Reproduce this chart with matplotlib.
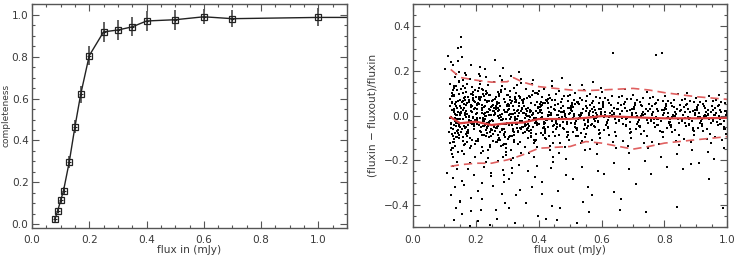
import matplotlib
matplotlib.use("Agg")
import matplotlib.pyplot as plt
from matplotlib.ticker import MultipleLocator

# ---------------- left panel data: completeness ----------------
flux_in = [0.08, 0.09, 0.10, 0.11, 0.13, 0.15, 0.17, 0.20, 0.25, 0.30, 0.35,
           0.40, 0.50, 0.60, 0.70, 1.00, 1.50]
completeness = [0.025, 0.066, 0.114, 0.160, 0.297, 0.466, 0.620, 0.805, 0.918,
                0.927, 0.942, 0.970, 0.976, 0.990, 0.981, 0.987, 0.987]
compl_err = [0.012, 0.012, 0.015, 0.020, 0.028, 0.032, 0.040, 0.044, 0.048,
             0.046, 0.046, 0.046, 0.048, 0.035, 0.040, 0.043, 0.043]

# ---------------- right panel data: flux ratio scatter ----------------
scatter_x = [
 0.102,0.118,0.125,0.131,0.143,0.127,0.138,0.121,0.147,0.133,
 0.107,0.123,0.136,0.129,0.145,0.119,0.141,0.132,0.126,0.149,
 0.112,0.128,0.139,0.122,0.146,0.134,0.117,0.142,0.130,0.137,
 0.115,0.124,0.144,0.135,0.127,0.148,0.120,0.139,0.131,0.146,
 0.119,0.133,0.126,0.141,0.137,0.122,0.148,0.129,0.144,0.135,
 0.121,0.136,0.128,0.143,0.125,0.139,0.132,0.147,0.118,0.140,
 0.124,0.131,0.145,0.138,0.127,0.149,0.134,0.142,0.121,0.136,
 0.152,0.168,0.175,0.159,0.183,0.191,0.163,0.177,0.196,0.156,
 0.154,0.171,0.186,0.162,0.179,0.193,0.158,0.184,0.167,0.198,
 0.161,0.174,0.189,0.153,0.182,0.166,0.195,0.170,0.157,0.187,
 0.164,0.178,0.155,0.192,0.169,0.185,0.160,0.197,0.173,0.181,
 0.167,0.153,0.188,0.176,0.194,0.159,0.172,0.185,0.163,0.199,
 0.158,0.180,0.165,0.190,0.175,0.151,0.184,0.170,0.196,0.162,
 0.173,0.156,0.189,0.168,0.182,0.194,0.161,0.178,0.152,0.186,
 0.203,0.217,0.231,0.246,0.212,0.238,0.225,0.241,0.208,0.229,
 0.206,0.221,0.236,0.214,0.248,0.227,0.201,0.243,0.219,0.233,
 0.210,0.224,0.239,0.205,0.232,0.247,0.216,0.228,0.244,0.213,
 0.204,0.219,0.234,0.249,0.211,0.226,0.240,0.207,0.222,0.237,
 0.209,0.223,0.242,0.215,0.230,0.245,0.202,0.218,0.235,0.226,
 0.212,0.228,0.244,0.206,0.220,0.236,0.250,0.214,0.231,0.241,
 0.217,0.233,0.203,0.225,0.247,0.211,0.238,0.222,0.229,0.245,
 0.253,0.268,0.281,0.295,0.259,0.274,0.288,0.262,0.291,0.277,
 0.256,0.271,0.285,0.299,0.264,0.279,0.293,0.258,0.283,0.270,
 0.261,0.276,0.289,0.254,0.267,0.282,0.296,0.273,0.287,0.265,
 0.257,0.272,0.286,0.298,0.263,0.278,0.292,0.266,0.284,0.251,
 0.260,0.275,0.290,0.255,0.269,0.284,0.297,0.263,0.280,0.294,
 0.252,0.267,0.282,0.296,0.274,0.288,0.259,0.271,0.286,0.299,
 0.303,0.318,0.332,0.346,0.311,0.325,0.339,0.307,0.321,0.343,
 0.306,0.320,0.334,0.348,0.314,0.328,0.341,0.309,0.323,0.337,
 0.301,0.316,0.330,0.344,0.313,0.327,0.336,0.305,0.319,0.349,
 0.308,0.322,0.335,0.347,0.315,0.329,0.342,0.304,0.326,0.338,
 0.302,0.317,0.331,0.345,0.312,0.324,0.340,0.310,0.333,0.350,
 0.305,0.319,0.328,0.343,0.309,0.321,0.336,0.314,0.339,0.326,
 0.353,0.367,0.381,0.395,0.359,0.373,0.388,0.362,0.377,0.391,
 0.356,0.370,0.384,0.398,0.364,0.379,0.392,0.358,0.374,0.386,
 0.351,0.366,0.380,0.394,0.361,0.376,0.389,0.355,0.369,0.397,
 0.357,0.371,0.385,0.399,0.363,0.378,0.393,0.368,0.382,0.352,
 0.360,0.375,0.390,0.354,0.369,0.383,0.396,0.365,0.387,0.372,
 0.403,0.417,0.432,0.446,0.411,0.425,0.439,0.406,0.421,0.443,
 0.408,0.422,0.436,0.449,0.414,0.428,0.441,0.401,0.419,0.434,
 0.405,0.419,0.433,0.447,0.412,0.427,0.440,0.409,0.424,0.438,
 0.402,0.416,0.430,0.444,0.410,0.423,0.437,0.407,0.426,0.448,
 0.404,0.418,0.431,0.445,0.413,0.429,0.442,0.410,0.435,0.420,
 0.453,0.467,0.481,0.495,0.459,0.473,0.488,0.462,0.477,0.491,
 0.456,0.470,0.484,0.498,0.464,0.479,0.492,0.458,0.474,0.486,
 0.451,0.466,0.480,0.494,0.461,0.476,0.489,0.455,0.469,0.497,
 0.457,0.471,0.485,0.499,0.463,0.478,0.493,0.468,0.482,0.452,
 0.503,0.517,0.532,0.546,0.511,0.525,0.539,0.506,0.521,0.543,
 0.508,0.522,0.536,0.549,0.514,0.528,0.541,0.501,0.519,0.534,
 0.505,0.519,0.533,0.547,0.512,0.527,0.540,0.509,0.524,0.538,
 0.502,0.516,0.530,0.544,0.510,0.523,0.537,0.507,0.526,0.548,
 0.553,0.567,0.581,0.595,0.559,0.573,0.588,0.562,0.577,0.591,
 0.556,0.570,0.584,0.598,0.564,0.579,0.592,0.558,0.574,0.586,
 0.551,0.566,0.580,0.594,0.561,0.576,0.589,0.555,0.569,0.597,
 0.557,0.571,0.585,0.599,0.563,0.578,0.593,0.568,0.582,0.552,
 0.603,0.617,0.632,0.646,0.611,0.625,0.639,0.606,0.621,0.635,
 0.608,0.622,0.636,0.649,0.614,0.628,0.641,0.601,0.619,0.644,
 0.605,0.619,0.633,0.647,0.612,0.627,0.640,0.609,0.624,0.638,
 0.653,0.667,0.681,0.695,0.659,0.673,0.688,0.662,0.677,0.691,
 0.656,0.670,0.684,0.698,0.664,0.679,0.692,0.658,0.674,0.686,
 0.651,0.666,0.680,0.694,0.661,0.676,0.689,0.655,0.669,0.697,
 0.703,0.717,0.732,0.746,0.711,0.725,0.739,0.706,0.721,0.743,
 0.708,0.722,0.736,0.749,0.714,0.728,0.741,0.701,0.719,0.734,
 0.705,0.719,0.733,0.747,0.712,0.727,0.740,0.709,0.724,0.738,
 0.753,0.767,0.781,0.795,0.759,0.773,0.788,0.762,0.777,0.791,
 0.756,0.770,0.784,0.798,0.764,0.779,0.792,0.758,0.774,0.786,
 0.751,0.766,0.780,0.794,0.761,0.776,0.789,0.755,0.769,0.797,
 0.803,0.817,0.832,0.846,0.811,0.825,0.839,0.806,0.821,0.843,
 0.808,0.822,0.836,0.849,0.814,0.828,0.841,0.801,0.819,0.834,
 0.805,0.819,0.833,0.847,0.812,0.827,0.840,0.809,0.824,0.838,
 0.853,0.867,0.881,0.895,0.859,0.873,0.888,0.862,0.877,0.891,
 0.856,0.870,0.884,0.898,0.864,0.879,0.892,0.858,0.874,0.886,
 0.851,0.866,0.880,0.894,0.861,0.876,0.889,0.855,0.869,0.897,
 0.903,0.917,0.932,0.946,0.911,0.925,0.939,0.906,0.921,0.943,
 0.908,0.922,0.936,0.949,0.914,0.928,0.941,0.901,0.919,0.934,
 0.905,0.919,0.933,0.947,0.912,0.927,0.940,0.909,0.924,0.938,
 0.953,0.967,0.981,0.995,0.959,0.973,0.988,0.962,0.977,0.991,
 0.956,0.970,0.984,0.998,0.964,0.979,0.992,0.958,0.974,0.986,
 0.951,0.966,0.980,0.994,0.961,0.976,0.989,0.955,0.969,0.997,
]
scatter_y = [
 0.210,0.045,-0.082,0.132,-0.015,-0.187,0.062,0.241,-0.042,-0.318,
 -0.258,0.102,-0.031,0.018,0.155,-0.121,-0.067,0.087,-0.226,0.011,
 0.268,-0.143,0.034,-0.056,-0.098,0.171,-0.012,0.305,0.124,-0.412,
 -0.074,0.058,-0.162,0.008,-0.281,0.072,-0.038,0.113,-0.105,0.196,
 0.142,-0.023,0.091,-0.208,0.041,-0.355,-0.051,0.028,0.246,-0.134,
 -0.006,0.187,-0.089,0.065,-0.172,-0.015,-0.468,0.098,0.076,-0.241,
 0.024,-0.118,0.152,-0.045,0.226,-0.388,0.051,-0.079,-0.152,0.003,
 0.352,0.048,-0.063,0.134,-0.022,0.091,-0.172,-0.004,0.061,-0.294,
 0.307,-0.091,0.023,-0.131,0.068,-0.048,0.158,-0.368,0.012,0.114,
 -0.035,0.082,-0.109,0.036,-0.213,0.004,-0.061,0.182,-0.442,0.041,
 0.124,-0.027,-0.158,0.071,-0.082,0.229,-0.016,-0.125,0.055,-0.495,
 -0.054,0.015,0.097,-0.240,0.028,-0.097,0.143,-0.033,-0.312,0.008,
 0.065,-0.143,0.192,-0.011,-0.072,-0.382,0.038,0.105,-0.185,-0.045,
 -0.118,0.262,-0.038,0.021,0.162,-0.266,0.079,-0.008,-0.071,-0.428,
 0.048,-0.071,0.112,-0.024,0.217,-0.152,0.009,0.064,-0.336,-0.041,
 -0.103,0.026,-0.055,0.141,0.003,-0.228,0.085,-0.094,0.036,0.172,
 0.073,-0.015,-0.188,0.011,0.098,-0.062,-0.421,0.045,-0.132,0.176,
 -0.037,0.121,0.017,-0.256,0.052,-0.085,0.138,-0.470,-0.011,0.067,
 0.188,-0.046,0.031,-0.168,-0.002,0.092,-0.115,-0.302,0.059,-0.024,
 -0.067,0.014,-0.141,0.109,-0.374,-0.031,0.043,0.157,-0.208,0.002,
 0.082,-0.092,-0.019,0.038,-0.272,0.123,-0.048,-0.157,0.211,-0.489,
 0.068,-0.052,0.117,-0.163,0.021,-0.009,-0.297,0.248,-0.081,0.042,
 -0.112,0.034,-0.038,0.094,-0.421,-0.137,0.015,0.151,-0.064,-0.205,
 0.012,0.178,-0.088,-0.026,0.059,-0.352,-0.014,0.086,-0.186,-0.057,
 -0.041,0.106,-0.242,0.048,-0.119,0.003,-0.072,-0.463,0.133,-0.019,
 0.073,-0.098,0.024,-0.315,-0.047,0.161,-0.145,0.039,-0.006,-0.392,
 -0.063,0.051,-0.021,-0.178,0.098,-0.267,0.004,-0.109,0.212,-0.033,
 0.052,-0.067,0.138,-0.023,-0.198,0.011,0.084,-0.285,-0.108,0.163,
 -0.041,0.027,-0.129,0.068,0.006,-0.354,-0.055,0.109,-0.016,-0.223,
 0.092,-0.089,0.019,-0.169,0.176,-0.031,0.045,-0.412,-0.062,0.013,
 -0.014,0.126,-0.074,0.036,-0.258,0.071,-0.118,0.002,-0.482,0.058,
 -0.103,0.041,-0.036,0.147,-0.152,-0.007,-0.331,0.083,0.026,-0.049,
 0.031,-0.188,0.101,-0.058,0.009,-0.086,0.194,-0.236,-0.024,0.063,
 0.044,-0.057,0.112,-0.139,0.008,-0.026,-0.274,0.078,-0.091,0.021,
 -0.012,0.089,-0.183,0.035,-0.064,0.142,-0.011,-0.392,0.057,-0.108,
 0.067,-0.036,0.003,-0.227,0.118,-0.078,0.049,-0.142,-0.019,-0.448,
 -0.048,0.024,-0.121,0.096,-0.003,-0.318,0.061,-0.069,0.158,0.012,
 0.031,-0.094,-0.022,0.074,-0.166,0.014,-0.043,-0.249,0.101,-0.008,
 0.038,-0.049,0.094,-0.122,0.011,-0.021,-0.236,0.063,-0.078,0.131,
 -0.009,0.071,-0.153,0.028,-0.057,0.005,-0.404,0.109,-0.031,-0.092,
 0.052,-0.067,0.016,-0.184,0.085,-0.014,0.039,-0.298,-0.106,0.002,
 -0.038,0.118,-0.002,-0.071,0.046,-0.462,-0.136,0.024,0.068,-0.044,
 0.015,-0.028,0.076,-0.209,-0.085,0.033,0.154,-0.352,-0.013,0.057,
 0.027,-0.046,0.088,-0.109,0.004,0.167,-0.265,0.052,-0.017,-0.071,
 -0.024,0.061,-0.141,0.013,0.112,-0.058,0.035,-0.467,-0.007,-0.193,
 0.071,-0.012,0.021,-0.086,-0.338,0.042,-0.036,0.098,-0.121,0.008,
 -0.053,0.034,-0.003,0.139,-0.168,-0.029,0.064,-0.412,0.016,-0.089,
 0.041,-0.038,0.079,-0.097,0.009,-0.016,-0.228,0.056,-0.064,0.113,
 -0.011,0.063,-0.124,0.022,-0.049,0.004,-0.385,0.094,-0.026,-0.078,
 0.046,-0.057,0.014,-0.152,0.072,-0.009,0.031,-0.282,-0.091,0.138,
 -0.032,0.102,-0.004,-0.062,0.038,-0.481,-0.113,0.019,0.058,-0.039,
 0.035,-0.041,0.083,-0.102,0.012,0.152,-0.247,0.049,-0.013,-0.063,
 -0.018,0.058,-0.129,0.017,0.097,-0.051,0.029,-0.318,-0.002,-0.172,
 0.064,-0.008,0.026,-0.079,-0.431,0.039,-0.029,0.088,-0.108,0.006,
 -0.046,0.031,0.002,0.124,-0.148,-0.022,0.057,-0.356,0.014,-0.081,
 0.043,-0.032,0.086,-0.093,0.017,-0.008,-0.212,0.061,-0.057,0.281,
 -0.004,0.069,-0.118,0.028,-0.041,0.011,-0.341,0.104,-0.021,-0.072,
 0.052,-0.049,0.021,-0.146,0.078,-0.002,0.036,-0.263,-0.085,0.009,
 0.031,-0.036,0.074,-0.098,0.008,0.121,-0.238,0.046,-0.015,-0.061,
 -0.019,0.054,-0.136,0.014,0.088,-0.047,0.026,-0.421,-0.004,-0.168,
 0.058,-0.011,0.023,-0.074,-0.372,0.035,-0.027,0.082,-0.112,0.003,
 0.037,-0.029,0.078,-0.091,0.012,-0.006,-0.204,0.055,-0.053,0.107,
 -0.008,0.062,-0.121,0.021,-0.038,0.006,-0.432,0.094,-0.018,-0.069,
 0.047,-0.046,0.018,-0.143,0.071,-0.003,0.032,-0.305,-0.081,0.008,
 0.028,-0.034,0.071,-0.094,0.006,0.272,-0.186,0.043,-0.016,0.279,
 -0.021,0.051,-0.127,0.012,0.083,-0.044,0.024,-0.262,-0.005,-0.068,
 0.054,-0.013,0.019,-0.071,-0.118,0.032,-0.026,0.078,-0.053,0.001,
 0.033,-0.027,0.072,-0.086,0.011,-0.007,-0.173,0.051,-0.049,0.096,
 -0.009,0.058,-0.112,0.019,-0.035,0.005,-0.408,0.087,-0.017,-0.063,
 0.043,-0.042,0.016,-0.131,0.066,-0.002,0.029,-0.228,-0.074,0.007,
 0.026,-0.031,0.065,-0.088,0.005,0.102,-0.154,0.039,-0.014,-0.056,
 -0.019,0.047,-0.118,0.011,0.076,-0.041,0.022,-0.241,-0.004,-0.216,
 0.049,-0.012,0.018,-0.067,-0.103,0.029,-0.024,0.071,-0.048,0.002,
 0.031,-0.025,0.066,-0.081,0.010,-0.006,-0.162,0.047,-0.045,0.088,
 -0.008,0.053,-0.104,0.017,-0.032,0.004,-0.283,0.081,-0.015,-0.058,
 0.039,-0.038,0.015,-0.122,0.061,-0.001,0.027,-0.214,-0.068,0.006,
 0.024,-0.028,0.061,-0.083,0.004,0.094,-0.146,0.036,-0.013,-0.052,
 -0.017,0.044,-0.109,0.010,0.071,-0.038,0.020,-0.196,-0.003,-0.412,
 0.045,-0.011,0.017,-0.062,-0.095,0.027,-0.022,0.066,-0.044,0.002,
]

# extra points of the dense central band
core_x = [
 0.123,0.141,0.158,0.176,0.192,0.133,0.167,0.185,0.149,0.128,
 0.137,0.154,0.171,0.188,0.126,0.162,0.179,0.196,0.145,0.131,
 0.129,0.146,0.164,0.181,0.198,0.138,0.156,0.173,0.190,0.121,
 0.134,0.151,0.169,0.186,0.125,0.143,0.160,0.177,0.194,0.139,
 0.127,0.144,0.161,0.178,0.195,0.136,0.153,0.170,0.187,0.148,
 0.132,0.150,0.166,0.183,0.124,0.142,0.159,0.175,0.191,0.157,
 0.204,0.221,0.238,0.256,0.273,0.291,0.212,0.229,0.247,0.264,
 0.281,0.298,0.208,0.225,0.243,0.260,0.277,0.294,0.216,0.233,
 0.251,0.268,0.286,0.203,0.220,0.237,0.255,0.272,0.289,0.214,
 0.231,0.248,0.266,0.283,0.206,0.223,0.241,0.258,0.275,0.292,
 0.218,0.235,0.253,0.270,0.287,0.209,0.227,0.244,0.262,0.279,
 0.296,0.213,0.230,0.249,0.265,0.282,0.299,0.207,0.224,0.242,
 0.259,0.276,0.293,0.211,0.228,0.245,0.263,0.280,0.297,0.219,
 0.236,0.254,0.271,0.288,0.205,0.222,0.240,0.257,0.274,0.290,
 0.304,0.321,0.338,0.356,0.373,0.391,0.312,0.329,0.347,0.364,
 0.381,0.398,0.308,0.325,0.343,0.360,0.377,0.394,0.316,0.333,
 0.351,0.368,0.386,0.303,0.320,0.337,0.355,0.372,0.389,0.314,
 0.331,0.348,0.366,0.383,0.306,0.323,0.341,0.358,0.375,0.392,
 0.318,0.335,0.353,0.370,0.387,0.309,0.327,0.344,0.362,0.379,
 0.396,0.313,0.330,0.349,0.365,0.382,0.399,0.307,0.324,0.342,
 0.404,0.421,0.438,0.456,0.473,0.491,0.412,0.429,0.447,0.464,
 0.481,0.498,0.408,0.425,0.443,0.460,0.477,0.494,0.416,0.433,
 0.451,0.468,0.486,0.403,0.420,0.437,0.455,0.472,0.489,0.414,
 0.431,0.448,0.466,0.483,0.406,0.423,0.441,0.458,0.475,0.492,
 0.504,0.521,0.538,0.556,0.573,0.591,0.512,0.529,0.547,0.564,
 0.581,0.598,0.508,0.525,0.543,0.560,0.577,0.594,0.516,0.533,
 0.551,0.568,0.586,0.503,0.520,0.537,0.555,0.572,0.589,0.514,
 0.604,0.621,0.638,0.656,0.673,0.691,0.612,0.629,0.647,0.664,
 0.681,0.698,0.608,0.625,0.643,0.660,0.677,0.694,0.616,0.633,
 0.704,0.721,0.738,0.756,0.773,0.791,0.712,0.729,0.747,0.764,
 0.781,0.798,0.708,0.725,0.743,0.760,0.777,0.794,0.716,0.733,
 0.804,0.821,0.838,0.856,0.873,0.891,0.812,0.829,0.847,0.864,
 0.881,0.898,0.808,0.825,0.843,0.860,0.877,0.894,0.816,0.833,
 0.904,0.921,0.938,0.956,0.973,0.991,0.912,0.929,0.947,0.964,
 0.981,0.998,0.908,0.925,0.943,0.960,0.977,0.994,0.916,0.933,
]
core_y = [
 0.061,-0.094,0.027,-0.041,0.108,-0.012,0.083,-0.136,0.004,-0.058,
 -0.027,0.119,-0.073,0.015,-0.118,0.052,-0.003,0.036,-0.085,0.093,
 0.022,-0.047,0.071,-0.102,-0.019,0.134,-0.061,0.009,0.077,-0.033,
 -0.076,0.041,-0.008,0.097,-0.143,0.018,-0.112,0.059,-0.037,0.001,
 0.115,-0.064,0.033,-0.021,0.066,-0.097,0.012,-0.052,0.128,-0.016,
 -0.041,0.008,-0.128,0.046,0.089,-0.034,0.103,-0.079,-0.007,0.062,
 0.053,-0.088,0.017,-0.043,0.096,-0.127,-0.009,0.071,-0.064,0.028,
 -0.021,0.043,-0.105,0.088,-0.031,0.006,-0.074,0.119,-0.049,-0.002,
 0.064,-0.056,-0.014,0.031,-0.139,0.102,-0.082,0.019,-0.037,0.075,
 -0.066,0.037,-0.118,0.008,0.058,-0.025,0.091,-0.051,0.024,-0.097,
 0.011,-0.079,0.049,-0.003,-0.133,0.083,-0.045,0.026,-0.068,0.107,
 -0.038,0.069,-0.016,-0.091,0.042,-0.059,0.015,-0.112,0.098,-0.028,
 0.033,-0.107,0.061,-0.044,0.012,-0.071,0.084,-0.018,-0.125,0.047,
 -0.053,0.021,-0.086,0.074,-0.011,0.113,-0.039,0.004,0.056,-0.062,
 0.044,-0.071,0.012,-0.036,0.082,-0.108,-0.006,0.063,-0.052,0.023,
 -0.018,0.037,-0.091,0.074,-0.026,0.004,-0.063,0.101,-0.041,-0.001,
 0.055,-0.047,-0.012,0.027,-0.118,0.088,-0.071,0.016,-0.031,0.064,
 -0.057,0.031,-0.101,0.007,0.049,-0.021,0.078,-0.044,0.019,-0.083,
 0.009,-0.067,0.041,-0.003,-0.114,0.071,-0.038,0.022,-0.058,0.092,
 -0.032,0.058,-0.014,-0.078,0.036,-0.051,0.013,-0.096,0.083,-0.024,
 0.039,-0.062,0.011,-0.031,0.073,-0.094,-0.004,0.056,-0.045,0.021,
 -0.015,0.033,-0.079,0.066,-0.022,0.004,-0.054,0.089,-0.036,0.001,
 0.049,-0.041,-0.009,0.025,-0.102,0.078,-0.061,0.015,-0.027,0.057,
 -0.049,0.028,-0.088,0.007,0.044,-0.018,0.069,-0.038,0.017,-0.072,
 0.036,-0.055,0.011,-0.027,0.066,-0.084,-0.002,0.051,-0.040,0.020,
 -0.012,0.031,-0.071,0.059,-0.019,0.005,-0.048,0.081,-0.032,0.002,
 0.045,-0.036,-0.007,0.024,-0.091,0.071,-0.054,0.015,-0.023,0.052,
 0.038,-0.049,0.013,-0.022,0.062,-0.076,0.001,0.049,-0.034,0.022,
 -0.009,0.031,-0.064,0.056,-0.015,0.007,-0.042,0.074,-0.027,0.003,
 0.031,-0.046,0.008,-0.024,0.055,-0.071,-0.003,0.043,-0.035,0.017,
 -0.013,0.027,-0.061,0.049,-0.018,0.004,-0.041,0.066,-0.029,0.001,
 0.029,-0.042,0.006,-0.023,0.051,-0.066,-0.004,0.039,-0.033,0.015,
 -0.012,0.024,-0.057,0.045,-0.017,0.003,-0.038,0.061,-0.027,0.000,
 0.026,-0.039,0.005,-0.022,0.048,-0.062,-0.005,0.036,-0.031,0.013,
 -0.011,0.022,-0.054,0.042,-0.016,0.002,-0.036,0.057,-0.025,-0.001,
]

# running statistics (red curves)
stat_x = [0.12, 0.15, 0.20, 0.25, 0.30, 0.32, 0.35, 0.40, 0.50, 0.55, 0.60,
          0.70, 0.75, 0.80, 0.90, 1.00]
median_y = [-0.007, -0.034, -0.027, -0.042, -0.034, -0.032, -0.031, -0.015,
            -0.015, -0.010, -0.002, -0.007, -0.010, -0.012, -0.012, -0.010]
upper_y = [0.207, 0.171, 0.159, 0.150, 0.152, 0.170, 0.150, 0.130, 0.115,
           0.112, 0.115, 0.122, 0.115, 0.103, 0.085, 0.073]
lower_y = [-0.227, -0.220, -0.213, -0.213, -0.198, -0.190, -0.175, -0.146,
           -0.138, -0.116, -0.123, -0.150, -0.138, -0.123, -0.108, -0.094]

TXT = "#3a3a3a"
FS = 7.6
plt.rcParams["font.family"] = ["DejaVu Sans"]
plt.rcParams["font.size"] = FS

fig = plt.figure(figsize=(7.38, 2.56), dpi=100)
W, H = 738.0, 256.0
ax1 = fig.add_axes([32 / W, 1 - 227.7 / H, (347 - 32) / W, (227.7 - 4) / H])
ax2 = fig.add_axes([413 / W, 1 - 227.3 / H, (727.3 - 413) / W, (227.3 - 4) / H])


def style(ax):
    for s in ax.spines.values():
        s.set_color("#555555")
        s.set_linewidth(1.0)
    ax.tick_params(which="both", direction="in", top=True, right=True,
                   colors="#555555", labelcolor=TXT, labelsize=FS)
    ax.tick_params(which="major", length=5, width=0.8)
    ax.tick_params(axis="x", which="major", pad=5.5)
    ax.tick_params(axis="y", which="major", pad=2.5)
    ax.tick_params(which="minor", length=2.5, width=0.8)


# left panel
ax1.errorbar(flux_in, completeness, yerr=compl_err, fmt="none",
             ecolor="#555555", elinewidth=1.3, capsize=0)
ax1.plot(flux_in, completeness, "-", color="#222222", lw=1.0)
ax1.plot(flux_in, completeness, "s", ms=4.2, mfc="none", mec="#222222", mew=0.9)
ax1.plot(flux_in, completeness, "+", ms=3.5, color="#222222", mew=0.8)
ax1.set_xlim(0, 1.1)
ax1.set_ylim(-0.016, 1.051)
ax1.xaxis.set_major_locator(MultipleLocator(0.2))
ax1.xaxis.set_minor_locator(MultipleLocator(0.05))
ax1.yaxis.set_major_locator(MultipleLocator(0.2))
ax1.yaxis.set_minor_locator(MultipleLocator(0.05))
style(ax1)
ax1.set_xlabel("flux in (mJy)", color=TXT, fontsize=FS, labelpad=0)
ax1.set_ylabel("completeness", color=TXT, fontsize=6.5)
# label anchor is its right edge (bottom of rotated text)
ax1.yaxis.set_label_coords(-0.0667, 0.5)

# right panel
ax2.plot(scatter_x, scatter_y, "s", ms=1.6, mew=0, color="black")
ax2.plot(core_x, core_y, "s", ms=1.6, mew=0, color="black")
ax2.plot(stat_x, median_y, "-", color="#d94040", lw=1.6)
ax2.plot(stat_x, upper_y, "--", color="#e06060", lw=1.2, dashes=(5, 3))
ax2.plot(stat_x, lower_y, "--", color="#e06060", lw=1.2, dashes=(5, 3))
ax2.set_xlim(0, 1.0)
ax2.set_ylim(-0.5, 0.5)
ax2.xaxis.set_major_locator(MultipleLocator(0.2))
ax2.xaxis.set_minor_locator(MultipleLocator(0.05))
ax2.yaxis.set_major_locator(MultipleLocator(0.2))
ax2.yaxis.set_minor_locator(MultipleLocator(0.05))
style(ax2)
ax2.set_xlabel("flux out (mJy)", color=TXT, fontsize=FS, labelpad=0)
ax2.set_ylabel("(fluxin \u2212 fluxout)/fluxin", color=TXT, fontsize=FS)
ax2.yaxis.set_label_coords(-0.1145, 0.5)

fig.savefig("out.png", dpi=100)
